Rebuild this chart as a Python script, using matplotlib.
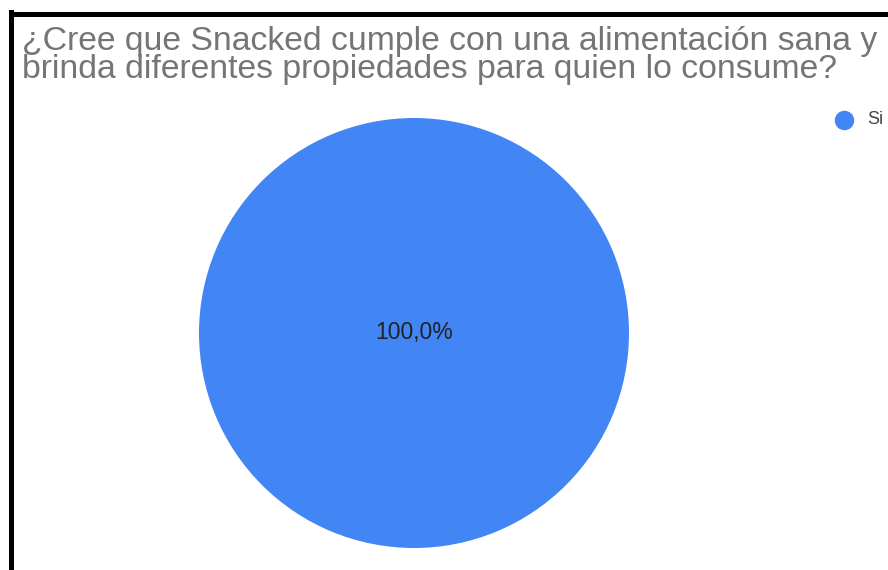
import matplotlib.pyplot as plt
from matplotlib.lines import Line2D

# Survey answers
labels = ["Si"]
values = [100.0]
colors = ["#4285F4"]

title_lines = ["¿Cree que Snacked cumple con una alimentación sana y",
               "brinda diferentes propiedades para quien lo consume?"]

plt.rcParams['font.family'] = ['Liberation Sans', 'DejaVu Sans']

W, H = 888, 570
fig = plt.figure(figsize=(W / 100, H / 100), dpi=100)
fig.patch.set_facecolor("white")

# Pie axes: centre (414, 333) px, radius 215 px
cx, cy, r = 414, 333, 215
ax = fig.add_axes([(cx - r) / W, (H - cy - r) / H, 2 * r / W, 2 * r / H])
wedges, _ = ax.pie(values, colors=colors, startangle=90, radius=1,
                   wedgeprops=dict(linewidth=0))
ax.set_xlim(-1, 1)
ax.set_ylim(-1, 1)
ax.set_aspect("equal")
ax.axis("off")

# Percentage label in the centre
total = sum(values)
ax.text(0, 0, f"{values[0] / total * 100:.1f}%".replace(".", ","),
        ha="center", va="center", fontsize=16.5, color="#222222")

# Title, one line at a time (baselines at 50 and 78 px)
for line, base in zip(title_lines, [50, 78]):
    fig.text(22 / W, 1 - base / H, line, ha="left", va="baseline",
             fontsize=24.3, color="#757575")

# Legend
for i, lab in enumerate(labels):
    fig.add_artist(Line2D([844 / W], [1 - 120 / H], marker="o", markersize=13,
                          color=colors[i], linestyle="none"))
    fig.text(867 / W, 1 - 120 / H, lab, ha="left", va="center",
             fontsize=13, color="#444444")

# Black frame (top and left edges)
fig.add_artist(Line2D([10.5 / W, 10.5 / W], [0, 1 - 12 / H], color="black",
                      linewidth=3.6, solid_capstyle="projecting"))
fig.add_artist(Line2D([10.5 / W, 1], [1 - 14 / H, 1 - 14 / H], color="black",
                      linewidth=3.6, solid_capstyle="projecting"))

fig.savefig("out.png", dpi=100)
